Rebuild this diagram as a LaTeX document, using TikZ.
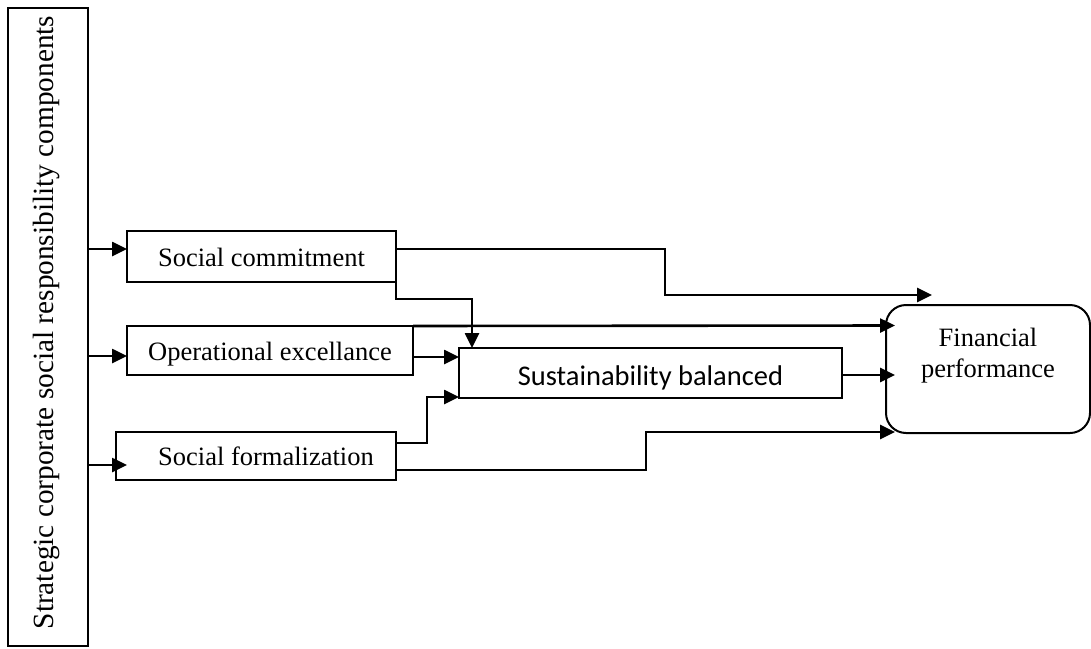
\documentclass[tikz,border=0pt]{standalone}
\usepackage{fontspec}
\setmainfont{Liberation Serif}
\newfontfamily\sbfont{Carlito}
\usetikzlibrary{arrows.meta}
\begin{document}
\begin{tikzpicture}[x=1pt,y=-1pt,
  box/.style={draw, line width=1.8pt, inner sep=0pt, outer sep=0pt, text height=19pt, text depth=0pt,
    font=\fontsize{26.5}{31}\selectfont},
  arr/.style={line width=2.6pt, -{Triangle[length=15pt,width=14pt]}}]
\useasboundingbox (0,0) rectangle (1091,648);
% boxes
\node[draw, line width=1.8pt, minimum width=80pt, minimum height=638pt, inner sep=0pt, outer sep=0pt] (L) at (48,327) {};
\node[rotate=90, font=\fontsize{29.3}{34}\selectfont] (Lt) at (46,322.5) {Strategic corporate social responsibility components};
\node[box, minimum width=269pt, minimum height=51pt] (SC) at (261.5,256.5) {Social commitment};
\node[box, minimum width=286pt, minimum height=49pt] (OE) at (270,350.5) {Operational excellance};
\node[box, minimum width=280pt, minimum height=48pt] (SF) at (256,456) {\hspace*{20pt}Social formalization};
\node[box, minimum width=383pt, minimum height=50pt, text height=24pt, font=\sbfont\fontsize{28.5}{33}\selectfont] (SB) at (650.5,373) {Sustainability balanced};
\node[draw, line width=2pt, rounded corners=20pt, minimum width=204pt, minimum height=128pt, inner sep=0pt, outer sep=0pt] (FP) at (988,369) {};
\node[align=center, font=\fontsize{26.5}{31}\selectfont] (FPt) at ([yshift=13pt]FP.center) {Financial\\performance};
% coordinates
\coordinate (y1) at (0,249);
\coordinate (y2) at (0,356);
\coordinate (y3) at (0,465);
\coordinate (t3) at (127,465);
\coordinate (a1) at (665,249);
\coordinate (a2) at (665,295);
\coordinate (a3) at (932,295);
\coordinate (b1) at (396,299);
\coordinate (b2) at (472,299);
\coordinate (b3) at (472,348);
\coordinate (c1) at (895,325.5);
\coordinate (d1) at (459,357);
\coordinate (e0) at (396,443);
\coordinate (e1) at (427,443);
\coordinate (e2) at (427,397);
\coordinate (e3) at (459,397);
\coordinate (f0) at (396,470);
\coordinate (f1) at (646,470);
\coordinate (f2) at (646,432);
\coordinate (f3) at (895,432);
\coordinate (g1) at (895,375);
% connectors
\draw[arr] (L.east |- y1) -- (SC.west |- y1);
\draw[arr] (L.east |- y2) -- (OE.west |- y2);
\draw[arr] (L.east |- y3) -- (t3);
\draw[arr] (SC.east |- y1) -- (a1) -- (a2) -- (a3);
\draw[arr] (SC.south east) -- (b1) -- (b2) -- (b3);
\draw[arr] (OE.north east) -- (c1);
\draw[arr] (OE.east |- d1) -- (d1);
\draw[arr] (e0) -- (e1) -- (e2) -- (e3);
\draw[arr] (f0) -- (f1) -- (f2) -- (f3);
\draw[arr] (SB.east |- g1) -- (g1);
\end{tikzpicture}
\end{document}
